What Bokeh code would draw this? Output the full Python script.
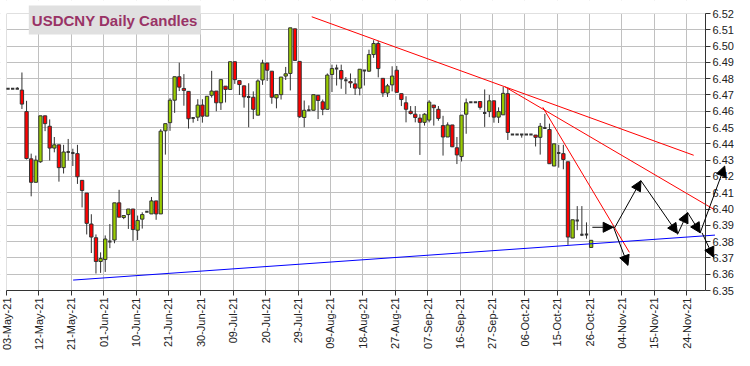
import numpy as np
import pandas as pd
from bokeh.plotting import figure
from bokeh.models import (Range1d, FixedTicker, Label, Arrow, NormalHead, BoxAnnotation,
                          ColumnDataSource, PrintfTickFormatter)
from bokeh.embed import file_html
from bokeh.resources import INLINE

# ---------------- data (weekdays from 03-May-2021) ----------------
start_date = "2021-05-03"
opens = [6.4738, 6.4738, 6.4738, 6.4730, 6.4598, 6.4308, 6.4164, 6.4290, 6.4572, 6.4508,
         6.4374, 6.4394, 6.4254, 6.4350, 6.4344, 6.4340, 6.4176, 6.4098, 6.3908, 6.3824,
         6.3678, 6.3690, 6.3800, 6.3810, 6.4038, 6.3948, 6.3966, 6.4000, 6.3870, 6.3938,
         6.3984, 6.3970, 6.4050, 6.3970, 6.4480, 6.4530, 6.4668, 6.4812, 6.4740, 6.4722,
         6.4558, 6.4564, 6.4638, 6.4570, 6.4698, 6.4724, 6.4652, 6.4754, 6.4734, 6.4904,
         6.4788, 6.4756, 6.4688, 6.4686, 6.4576, 6.4792, 6.4896, 6.4846, 6.4682, 6.4702,
         6.4816, 6.4832, 6.5106, 6.4906, 6.4562, 6.4606, 6.4606, 6.4698, 6.4658, 6.4612,
         6.4826, 6.4862, 6.4850, 6.4790, 6.4782, 6.4768, 6.4742, 6.4850, 6.4846, 6.4948,
         6.5016, 6.4802, 6.4712, 6.4762, 6.4852, 6.4708, 6.4652, 6.4600, 6.4582, 6.4558,
         6.4532, 6.4546, 6.4638, 6.4612, 6.4512, 6.4442, 6.4516, 6.4376, 6.4322, 6.4582,
         6.4656, 6.4656, 6.4660, 6.4590, 6.4598, 6.4664, 6.4564, 6.4578, 6.4708, 6.4458,
         6.4458, 6.4458, 6.4458, 6.4458, 6.4454, 6.4440, 6.4498, 6.4488, 6.4264, 6.4344,
         6.4340, 6.4290, 6.3822, 6.3930, 6.3842, 6.3844, 6.3764]
highs = [6.4740, 6.4740, 6.4748, 6.4838, 6.4664, 6.4340, 6.4328, 6.4572, 6.4572, 6.4550,
         6.4442, 6.4394, 6.4394, 6.4430, 6.4370, 6.4394, 6.4176, 6.4098, 6.3968, 6.3844,
         6.3734, 6.3838, 6.3908, 6.4038, 6.4118, 6.3960, 6.4000, 6.4000, 6.3960, 6.3980,
         6.3986, 6.4074, 6.4050, 6.4490, 6.4524, 6.4680, 6.4812, 6.4898, 6.4828, 6.4722,
         6.4560, 6.4674, 6.4674, 6.4692, 6.4848, 6.4724, 6.4794, 6.4754, 6.4904, 6.4904,
         6.4788, 6.4756, 6.4772, 6.4722, 6.4796, 6.4916, 6.4896, 6.4846, 6.4702, 6.4810,
         6.4872, 6.5112, 6.5106, 6.4906, 6.4666, 6.4636, 6.4702, 6.4698, 6.4672, 6.4832,
         6.4886, 6.4886, 6.4886, 6.4810, 6.4832, 6.4802, 6.4858, 6.4850, 6.4978, 6.5036,
         6.5032, 6.4802, 6.4768, 6.4876, 6.4878, 6.4708, 6.4692, 6.4632, 6.4632, 6.4582,
         6.4588, 6.4668, 6.4638, 6.4632, 6.4572, 6.4532, 6.4516, 6.4442, 6.4576, 6.4678,
         6.4656, 6.4656, 6.4660, 6.4734, 6.4700, 6.4664, 6.4624, 6.4750, 6.4744, 6.4458,
         6.4458, 6.4458, 6.4458, 6.4458, 6.4454, 6.4528, 6.4584, 6.4524, 6.4400, 6.4394,
         6.4394, 6.4290, 6.3934, 6.4018, 6.4018, 6.3918, 6.3810]
lows = [6.4736, 6.4736, 6.4736, 6.4614, 6.4304, 6.4078, 6.4164, 6.4284, 6.4478, 6.4298,
        6.4348, 6.4168, 6.4218, 6.4298, 6.4264, 6.4154, 6.4010, 6.3844, 6.3730, 6.3604,
        6.3608, 6.3614, 6.3760, 6.3790, 6.3950, 6.3938, 6.3878, 6.3804, 6.3810, 6.3880,
        6.3982, 6.3970, 6.3934, 6.3970, 6.4334, 6.4480, 6.4590, 6.4724, 6.4634, 6.4494,
        6.4530, 6.4540, 6.4530, 6.4570, 6.4684, 6.4600, 6.4608, 6.4654, 6.4734, 6.4768,
        6.4700, 6.4622, 6.4502, 6.4552, 6.4576, 6.4762, 6.4786, 6.4646, 6.4618, 6.4672,
        6.4792, 6.4728, 6.4912, 6.4560, 6.4502, 6.4604, 6.4606, 6.4552, 6.4576, 6.4612,
        6.4718, 6.4758, 6.4738, 6.4706, 6.4744, 6.4700, 6.4698, 6.4758, 6.4842, 6.4928,
        6.4808, 6.4688, 6.4688, 6.4722, 6.4716, 6.4632, 6.4532, 6.4580, 6.4532, 6.4332,
        6.4512, 6.4532, 6.4512, 6.4542, 6.4328, 6.4442, 6.4380, 6.4276, 6.4292, 6.4462,
        6.4656, 6.4656, 6.4610, 6.4504, 6.4564, 6.4530, 6.4528, 6.4578, 6.4424, 6.4458,
        6.4458, 6.4438, 6.4458, 6.4458, 6.4384, 6.4334, 6.4494, 6.4278, 6.4264, 6.4254,
        6.4244, 6.3780, 6.3822, 6.3870, 6.3834, 6.3818, 6.3764]
closes = [6.4738, 6.4738, 6.4738, 6.4644, 6.4310, 6.4164, 6.4300, 6.4572, 6.4524, 6.4374,
          6.4394, 6.4254, 6.4350, 6.4350, 6.4344, 6.4198, 6.4114, 6.3912, 6.3828, 6.3678,
          6.3696, 6.3816, 6.3800, 6.4038, 6.3950, 6.3960, 6.4000, 6.3874, 6.3930, 6.3966,
          6.3984, 6.4050, 6.3970, 6.4478, 6.4524, 6.4668, 6.4812, 6.4748, 6.4728, 6.4554,
          6.4558, 6.4638, 6.4570, 6.4692, 6.4724, 6.4652, 6.4794, 6.4734, 6.4904, 6.4794,
          6.4764, 6.4688, 6.4688, 6.4612, 6.4786, 6.4896, 6.4852, 6.4686, 6.4702, 6.4810,
          6.4830, 6.5112, 6.4912, 6.4566, 6.4606, 6.4606, 6.4702, 6.4666, 6.4612, 6.4822,
          6.4862, 6.4862, 6.4798, 6.4790, 6.4774, 6.4742, 6.4858, 6.4850, 6.4948, 6.5016,
          6.4862, 6.4712, 6.4756, 6.4816, 6.4716, 6.4672, 6.4612, 6.4586, 6.4562, 6.4532,
          6.4582, 6.4656, 6.4622, 6.4556, 6.4442, 6.4516, 6.4382, 6.4332, 6.4576, 6.4652,
          6.4656, 6.4656, 6.4624, 6.4590, 6.4664, 6.4564, 6.4598, 6.4710, 6.4470, 6.4458,
          6.4458, 6.4458, 6.4458, 6.4458, 6.4440, 6.4508, 6.4498, 6.4278, 6.4400, 6.4344,
          6.4304, 6.3828, 6.3934, 6.3930, 6.3842, 6.3844, 6.3808]

# x-axis tick labels (every 7th weekday)
tick_labels = ["03-May-21", "12-May-21", "21-May-21", "01-Jun-21", "10-Jun-21", "21-Jun-21",
               "30-Jun-21", "09-Jul-21", "20-Jul-21", "29-Jul-21", "09-Aug-21", "18-Aug-21",
               "27-Aug-21", "07-Sep-21", "16-Sep-21", "27-Sep-21", "06-Oct-21", "15-Oct-21",
               "26-Oct-21", "04-Nov-21", "15-Nov-21", "24-Nov-21"]
y_ticks = [6.35, 6.36, 6.37, 6.38, 6.39, 6.40, 6.41, 6.42, 6.43, 6.44, 6.45, 6.46, 6.47,
           6.48, 6.49, 6.50, 6.51, 6.52]

# trend lines (weekday index, price)
red_x0 = [65.96, 107.7, 115.9]
red_y0 = [6.5180, 6.4750, 6.4624]
red_x1 = [148.5, 153.1, 134.6]
red_y1 = [6.4330, 6.3994, 6.3734]
blue_x0 = [14.4]
blue_y0 = [6.3564]
blue_x1 = [153.1]
blue_y1 = [6.3840]

# projected path arrows (weekday index, price)
arr_x0 = [126.6, 131.1, 131.4, 137.1, 145.0, 147.2, 149.9, 150.3]
arr_y0 = [6.3888, 6.3894, 6.3884, 6.4174, 6.3844, 6.3978, 6.3854, 6.3854]
arr_x1 = [131.1, 134.3, 137.1, 145.0, 147.2, 149.9, 155.2, 152.8]
arr_y1 = [6.3888, 6.3654, 6.4174, 6.3850, 6.3978, 6.3854, 6.4264, 6.3704]

title_text = "USDCNY Daily Candles"

# ---------------- build ----------------
n = len(opens)
dates = pd.bdate_range(start_date, periods=n)
o = np.array(opens); h = np.array(highs); l = np.array(lows); c = np.array(closes)
xpos = np.arange(n) + 1.0 / 3.0   # candles drawn at 08:00 of each day

src = ColumnDataSource(dict(
    x=xpos, date=dates.strftime("%d-%b-%y"),
    top=np.maximum(o, c), bottom=np.minimum(o, c), high=h, low=l,
    color=np.where(c > o, "#99CC00", np.where(c < o, "#FF0000", "#333333")),
    lw=np.where(c == o, 2.0, 1.0),
))

X0, X1 = 0.0, 151.05      # date axis extent (weekday index)
Y0, Y1 = 6.35, 6.52       # price axis extent
W, H = 734, 350           # canvas
PX_DAY = 699 / (X1 - X0)  # pixels per weekday
PX_UNIT = 277 / (Y1 - Y0) # pixels per price unit
LEFT_PAD, TOP_PAD = 6, 13

# one drawing area covering the whole canvas; axes sit at fixed places inside it
x_range = Range1d(X0 - LEFT_PAD / PX_DAY, X0 + (W - LEFT_PAD) / PX_DAY)
y_range = Range1d(Y1 - (H - TOP_PAD) / PX_UNIT, Y1 + TOP_PAD / PX_UNIT)

p = figure(frame_width=W, frame_height=H, output_backend="svg", toolbar_location=None,
           x_range=x_range, y_range=y_range, y_axis_location="right",
           min_border_left=0, min_border_top=0, min_border_right=0, min_border_bottom=0)
p.background_fill_color = "white"
p.border_fill_color = "white"
p.outline_line_color = None

# axes
tick_pos = [7 * k for k in range(len(tick_labels))]
p.xaxis.ticker = FixedTicker(ticks=tick_pos)
p.xaxis.major_label_overrides = {t: lab for t, lab in zip(tick_pos, tick_labels)}
p.xaxis.major_label_orientation = np.pi / 2
p.xaxis.bounds = (X0, X1)
p.xaxis.fixed_location = Y0
p.yaxis.ticker = FixedTicker(ticks=y_ticks)
p.yaxis.formatter = PrintfTickFormatter(format="%.2f")
p.yaxis.bounds = (Y0, Y1)
p.yaxis.fixed_location = X1
for ax in (p.xaxis[0], p.yaxis[0]):
    ax.axis_line_color = "#333333"
    ax.major_tick_line_color = "#333333"
    ax.major_tick_out = 5
    ax.major_tick_in = 0
    ax.minor_tick_out = 0
    ax.minor_tick_in = 0
    ax.major_label_text_font = "Liberation Sans"
    ax.major_label_text_font_size = "11px"
    ax.major_label_text_color = "#222222"
    ax.major_label_standoff = 2
p.xgrid.grid_line_color = "#C0C0C0"
p.ygrid.grid_line_color = "#C0C0C0"

# keep grid lines inside the plotting area
for kw in (dict(left=X1), dict(right=X0), dict(top=Y0), dict(bottom=Y1)):
    p.add_layout(BoxAnnotation(fill_color="white", fill_alpha=1.0, line_color=None,
                               level="underlay", **kw))

# candles
p.segment(x0="x", y0="high", x1="x", y1="low", source=src, line_color="#333333", line_width=1)
p.vbar(x="x", width=0.72, top="top", bottom="bottom", source=src,
       fill_color="color", line_color="#333333", line_width="lw")

# trend lines
p.segment(x0=red_x0, y0=red_y0, x1=red_x1, y1=red_y1, line_color="#FF0000", line_width=1)
p.segment(x0=blue_x0, y0=blue_y0, x1=blue_x1, y1=blue_y1, line_color="#0000FF", line_width=1)

# arrows
for xa, ya, xb, yb in zip(arr_x0, arr_y0, arr_x1, arr_y1):
    p.add_layout(Arrow(end=NormalHead(size=10, fill_color="black", line_color="black"),
                       x_start=xa, y_start=ya, x_end=xb, y_end=yb,
                       line_color="black", line_width=1))

# title box
p.add_layout(Label(x=4.82, y=6.5249, text=title_text, text_align="left", text_baseline="top",
                   text_font="Liberation Sans", text_font_style="bold", text_font_size="15px",
                   text_color="#993366", background_fill_color="#E0E0E0", padding=(3, 6)))

open("out.html", "w").write(file_html(p, INLINE))
